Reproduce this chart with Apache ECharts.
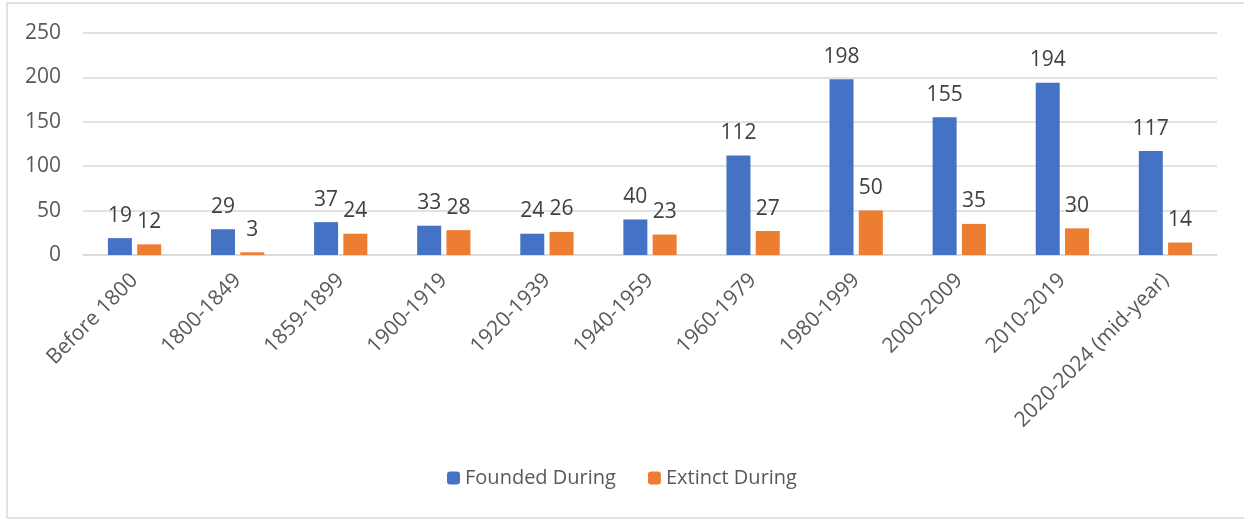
<!DOCTYPE html>
<html>
<head>
<meta charset="utf-8">
<script src="https://cdn.jsdelivr.net/npm/echarts@6/dist/echarts.min.js"></script>
<style>
  html, body { margin: 0; padding: 0; background: #fff; }
  #chart { width: 1244px; height: 519px; }
</style>
</head>
<body>
<div id="chart"></div>
<script>
// 数据
const categories = ['Before 1800', '1800-1849', '1859-1899', '1900-1919', '1920-1939', '1940-1959',
  '1960-1979', '1980-1999', '2000-2009', '2010-2019', '2020-2024 (mid-year)']
const founded = [19, 29, 37, 33, 24, 40, 112, 198, 155, 194, 117]
const extinct = [12, 3, 24, 28, 26, 23, 27, 50, 35, 30, 14]
const yTicks = [0, 50, 100, 150, 200, 250]

const font = '"Open Sans", "Noto Sans", sans-serif'
const textColor = '#595959'

const chart = echarts.init(document.getElementById('chart'))

const labelStyle = {
  show: true,
  position: 'top',
  distance: 12,
  fontSize: 21,
  fontFamily: font,
  color: '#404040'
}

const option = {
  animation: false,
  graphic: [{
    type: 'rect',
    shape: { x: 7, y: 3, width: 1250, height: 515 },
    style: { fill: 'none', stroke: '#d9d9d9', lineWidth: 1.5 },
    silent: true
  }],
  grid: { left: 83, right: 27, top: 33, bottom: 264 },
  legend: {
    bottom: 26,
    left: 'center',
    itemWidth: 13,
    itemHeight: 13,
    itemGap: 32,
    textStyle: { fontSize: 20, fontFamily: font, color: textColor },
    data: ['Founded During', 'Extinct During']
  },
  xAxis: {
    type: 'category',
    data: categories,
    axisLine: { lineStyle: { color: '#d9d9d9', width: 1.5 } },
    axisTick: { show: false },
    axisLabel: {
      interval: 0,
      rotate: 45,
      margin: 22,
      fontSize: 21,
      fontFamily: font,
      color: textColor
    }
  },
  yAxis: {
    type: 'value',
    min: yTicks[0],
    max: yTicks[yTicks.length - 1],
    interval: 50,
    axisLine: { show: false },
    axisTick: { show: false },
    axisLabel: { fontSize: 21, fontFamily: font, color: textColor, margin: 22 },
    splitLine: { lineStyle: { color: '#d9d9d9', width: 1.5 } }
  },
  series: [
    {
      name: 'Founded During',
      type: 'bar',
      data: founded,
      barWidth: 24,
      barGap: '22%',
      itemStyle: { color: '#4472c4' },
      label: labelStyle
    },
    {
      name: 'Extinct During',
      type: 'bar',
      data: extinct,
      barWidth: 24,
      itemStyle: { color: '#ed7d31' },
      label: labelStyle
    }
  ]
}

chart.setOption(option)
</script>
</body>
</html>
